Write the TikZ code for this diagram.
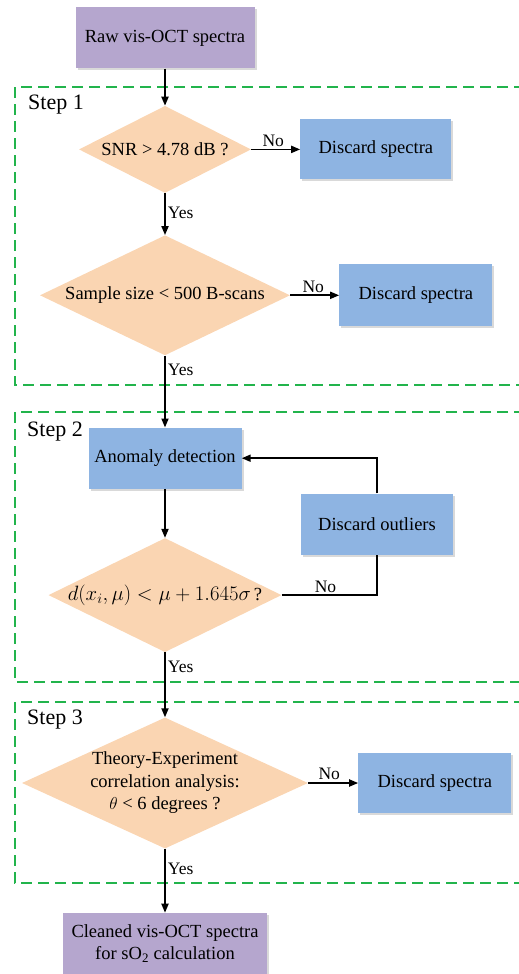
\documentclass[tikz,border=0pt]{standalone}
\usepackage{amsmath}
\usepackage{fontspec}
\setmainfont{Liberation Serif}
\usetikzlibrary{positioning,shapes.geometric,shadows,arrows.meta}

\definecolor{iopurple}{RGB}{181,166,206}
\definecolor{testpeach}{RGB}{250,213,178}
\definecolor{actblue}{RGB}{142,180,226}
\definecolor{stepgreen}{RGB}{34,180,76}

\begin{document}
\begin{tikzpicture}[x=1pt, y=-1pt, font=\fontsize{18.5}{22.5}\selectfont]
  % Style definitions
  \tikzstyle{io} = [rectangle, fill=iopurple, align=center, inner sep=0pt, minimum height=61pt, drop shadow={shadow xshift=2pt, shadow yshift=-2pt, opacity=.3}]
  \tikzstyle{act} = [rectangle, fill=actblue, align=center, inner sep=0pt, minimum width=152pt, minimum height=61pt, drop shadow={shadow xshift=2pt, shadow yshift=-2pt, opacity=.3}]
  \tikzstyle{test} = [diamond, fill=testpeach, align=center, inner sep=0pt, aspect=2]
  \tikzstyle{flow} = [line width=1.8pt, -{Triangle[length=9pt,width=7pt]}]
  \tikzstyle{plain} = [line width=1.8pt]
  \tikzstyle{lab} = [font=\fontsize{17.5}{20}\selectfont, inner sep=2pt]
  \tikzstyle{frame} = [stepgreen, line width=2.4pt, dash pattern=on 11pt off 6pt]
  \tikzstyle{steplab} = [anchor=west, inner sep=0pt, font=\fontsize{22}{26}\selectfont]

  \useasboundingbox (0,0) rectangle (519,974);

  % Step frames (open on the right)
  \draw[frame] (525,87) -- (15,87) -- (15,385) -- (525,385);
  \draw[frame] (525,412) -- (15,412) -- (15,682) -- (525,682);
  \draw[frame] (525,702) -- (15,702) -- (15,883) -- (525,883);
  \node[steplab] (st1) at (28,105) {Step 1};
  \node[steplab] (st2) at (27,432) {Step 2};
  \node[steplab] (st3) at (27,720) {Step 3};

  % Main column
  \node (raw) [io, minimum width=179pt] at (165,38) {Raw vis-OCT spectra};
  \node (snr) [test, minimum width=172pt, minimum height=87pt, below=37pt of raw] {SNR > 4.78 dB ?};
  \node (size) [test, minimum width=250pt, minimum height=120pt, below=42pt of snr] {Sample size < 500 B-scans};
  \node (anom) [act, minimum width=153pt, below=72pt of size] {Anomaly detection};
  \node (dist) [test, inner xsep=-12pt, inner ysep=-3pt, minimum width=233pt, minimum height=114pt, below=49pt of anom] {{\fontsize{21.5}{24}\selectfont$d(x_i,\mu) < \mu + 1.645\sigma$}\,?};
  \node (corr) [test, aspect=2.2, minimum width=286pt, minimum height=131pt, below=65pt of dist] {Theory-Experiment\\correlation analysis:\\$\theta$ < 6 degrees ?};
  \node (clean) [io, minimum width=204pt, below=64pt of corr] {Cleaned vis-OCT spectra\\for sO\textsubscript{2} calculation};

  % Side boxes
  \node (drop1) [act, minimum width=151pt, minimum height=60pt, right=49pt of snr] {Discard spectra};
  \node (drop2) [act, minimum width=153pt, minimum height=62pt, right=49pt of size] {Discard spectra};
  \node (outl) [act] at (377,524) {Discard outliers};
  \node (drop3) [act, minimum width=153pt, minimum height=60pt, right=50pt of corr] {Discard spectra};

  % Arrows
  \draw[flow] (raw) -- (snr);
  \draw[flow] (snr) -- node[lab, above, pos=.45] {No} (drop1);
  \draw[flow] (snr) -- node[lab, right, pos=.48] {Yes} (size);
  \draw[flow] (size) -- node[lab, above, pos=.47] {No} (drop2);
  \draw[flow] (size) -- node[lab, right, pos=.2] {Yes} (anom);
  \draw[flow] (anom) -- (dist);
  \draw[plain] (dist.east) -| node[lab, above, pos=.23] {No} (outl.south);
  \draw[flow] (outl.north) |- (anom.east);
  \draw[flow] (dist) -- node[lab, right, pos=.23] {Yes} (corr);
  \draw[flow] (corr) -- node[lab, above, pos=.42] {No} (drop3);
  \draw[flow] (corr) -- node[lab, right, pos=.31] {Yes} (clean);
\end{tikzpicture}
\end{document}
